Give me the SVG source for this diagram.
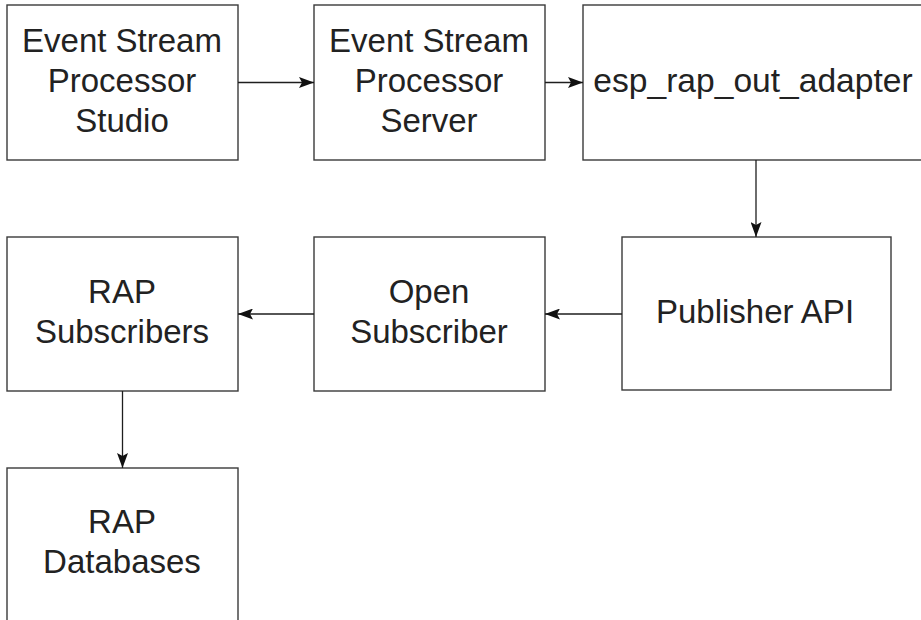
<svg xmlns="http://www.w3.org/2000/svg" width="921" height="620" viewBox="0 0 921 620">
<style>
.box{fill:#ffffff;stroke:#3a3a3a;stroke-width:1.4}
.lbl{font-family:"Liberation Sans",Arial,sans-serif;font-size:33px;fill:#222222;text-anchor:middle}
.edge{fill:none;stroke:#1e1e1e;stroke-width:1.3}
</style>
<defs>
<marker id="arr" viewBox="0 0 15 11" refX="15" refY="5.5" markerWidth="15" markerHeight="11" markerUnits="userSpaceOnUse" orient="auto">
<path d="M0,0 L15,5.5 L0,11 L3,5.5 Z" fill="#111"/>
</marker>
</defs>
<rect width="921" height="620" fill="#ffffff"/>
<g id="n1"><rect class="box" x="7" y="5" width="231" height="155"/>
<text class="lbl" x="122" y="52">Event Stream</text><text class="lbl" x="122" y="92">Processor</text><text class="lbl" x="122" y="132">Studio</text></g>
<g id="n2"><rect class="box" x="314" y="5" width="231" height="155"/>
<text class="lbl" x="429" y="52">Event Stream</text><text class="lbl" x="429" y="92">Processor</text><text class="lbl" x="429" y="132">Server</text></g>
<g id="n3"><rect class="box" x="583" y="5" width="346" height="155"/>
<text class="lbl" x="753" y="92" style="font-size:33.6px">esp_rap_out_adapter</text></g>
<g id="n4"><rect class="box" x="622" y="237" width="269" height="153"/>
<text class="lbl" x="755" y="323">Publisher API</text></g>
<g id="n5"><rect class="box" x="314" y="237" width="231" height="154"/>
<text class="lbl" x="429" y="303">Open</text><text class="lbl" x="429" y="343">Subscriber</text></g>
<g id="n6"><rect class="box" x="7" y="237" width="231" height="154"/>
<text class="lbl" x="122" y="303">RAP</text><text class="lbl" x="122" y="343">Subscribers</text></g>
<g id="n7"><rect class="box" x="7" y="468" width="231" height="160"/>
<text class="lbl" x="122" y="533">RAP</text><text class="lbl" x="122" y="573">Databases</text></g>
<g id="edges">
<line class="edge" x1="238" y1="82.5" x2="314" y2="82.5" marker-end="url(#arr)"/>
<line class="edge" x1="545" y1="82.5" x2="583" y2="82.5" marker-end="url(#arr)"/>
<line class="edge" x1="756" y1="160" x2="756" y2="237" marker-end="url(#arr)"/>
<line class="edge" x1="622" y1="314" x2="545" y2="314" marker-end="url(#arr)"/>
<line class="edge" x1="314" y1="314" x2="238" y2="314" marker-end="url(#arr)"/>
<line class="edge" x1="122.5" y1="391" x2="122.5" y2="468" marker-end="url(#arr)"/>
</g>
</svg>
